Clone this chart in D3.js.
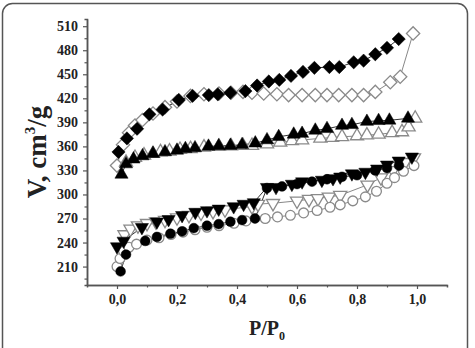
<!DOCTYPE html>
<html><head><meta charset="utf-8">
<script src="https://cdn.jsdelivr.net/npm/d3@7"></script>
<style>body{margin:0;background:#fff}svg{display:block}</style>
</head><body>
<svg id="c" width="475" height="348"></svg>
<script>
// ---- data ----
const xTicks = [0, 0.2, 0.4, 0.6, 0.8, 1.0];
const yTicks = [210, 240, 270, 300, 330, 360, 390, 420, 450, 480, 510];
const xLabel = "P/P";
const yLabel = "V, cm";

const diamondFilled = [[0.005,353],[0.033,370],[0.067,382],[0.108,400],[0.152,406],[0.206,418],[0.252,423],[0.306,424],[0.336,425],[0.378,427],[0.428,429],[0.467,436],[0.506,441],[0.541,443],[0.58,448],[0.62,453],[0.658,458],[0.708,459],[0.741,459],[0.789,465],[0.822,467],[0.861,475],[0.9,483],[0.939,494]];
const diamondOpen = [[0.0,336],[0.02,362],[0.04,377],[0.06,386],[0.085,393],[0.12,401],[0.16,409],[0.2,416],[0.245,423],[0.29,425],[0.34,426],[0.38,427],[0.42,428],[0.45,427],[0.489,426],[0.533,425],[0.572,424],[0.617,424],[0.661,424],[0.7,424],[0.739,424],[0.783,424],[0.822,424],[0.861,428],[0.911,440],[0.944,447],[0.987,501]];
const triUpFilled = [[0.015,325],[0.03,338],[0.055,344],[0.085,348],[0.12,351],[0.16,353],[0.2,355],[0.228,357],[0.26,358],[0.305,360],[0.339,360.5],[0.378,361],[0.417,362],[0.461,364],[0.5,368],[0.539,372],[0.589,375],[0.617,376],[0.661,380],[0.7,382],[0.75,386],[0.783,387],[0.833,391],[0.872,392],[0.908,392.5],[0.97,395]];
const triUpOpen = [[0.03,340],[0.06,346],[0.09,349],[0.12,351],[0.145,353],[0.175,354],[0.21,356],[0.245,357],[0.29,359],[0.34,360],[0.38,360.5],[0.42,361],[0.45,361],[0.5,363],[0.544,365],[0.583,367],[0.617,368],[0.678,370],[0.717,371],[0.75,372],[0.8,373],[0.833,374],[0.872,375],[0.917,377],[0.95,378],[0.972,384],[0.994,395]];
const triDownFilled = [[0.0,235],[0.022,242],[0.083,259],[0.133,266],[0.172,269],[0.217,274],[0.261,278],[0.3,280],[0.339,282],[0.389,285],[0.422,288],[0.456,290],[0.5,309],[0.53,309],[0.583,313],[0.617,316],[0.683,318],[0.72,320],[0.744,322],[0.783,326],[0.828,328],[0.867,332],[0.9,337],[0.939,342],[0.983,347]];
const triDownOpen = [[0.025,250],[0.045,257],[0.07,261],[0.1,264],[0.13,266],[0.16,268],[0.2,271],[0.24,274],[0.28,277],[0.32,279],[0.36,281],[0.45,285],[0.47,288],[0.52,289],[0.6,292],[0.64,294],[0.67,295],[0.706,297],[0.744,299],[0.835,312],[0.88,321],[0.92,330],[0.96,340],[0.99,346]];
const circleFilled = [[0.012,204],[0.03,225],[0.094,242],[0.133,247],[0.178,251],[0.217,254],[0.256,258],[0.3,261],[0.339,263],[0.378,266],[0.417,268],[0.46,270],[0.5,308],[0.55,310],[0.6,313],[0.65,316],[0.7,319],[0.75,322],[0.8,324],[0.86,330],[0.9,333],[0.94,336]];
const circleOpen = [[0.0,210],[0.01,220],[0.022,229],[0.04,234],[0.065,238],[0.1,243],[0.14,246],[0.18,250],[0.22,253],[0.26,256],[0.3,259],[0.34,261],[0.39,264],[0.43,267],[0.494,270],[0.535,272],[0.578,274],[0.622,277],[0.667,280],[0.71,284],[0.744,287],[0.786,292],[0.828,297],[0.865,304],[0.9,314],[0.925,321],[0.955,329],[0.99,336]];

const series = [
  {d: diamondOpen, sym: d3.symbolSquare, size: 88, filled: false, rot: 45},
  {d: triUpOpen, sym: d3.symbolTriangle, size: 75, filled: false, rot: 0},
  {d: triDownOpen, sym: d3.symbolTriangle, size: 75, filled: false, rot: 180},
  {d: circleOpen, sym: d3.symbolCircle, size: 75, filled: false, rot: 0},
  {d: diamondFilled, sym: d3.symbolSquare, size: 88, filled: true, rot: 45},
  {d: triUpFilled, sym: d3.symbolTriangle, size: 75, filled: true, rot: 0},
  {d: triDownFilled, sym: d3.symbolTriangle, size: 75, filled: true, rot: 180},
  {d: circleFilled, sym: d3.symbolCircle, size: 75, filled: true, rot: 0}
];

const svg = d3.select("#c");
const font = "'Liberation Serif','Times New Roman',serif";

// frame
svg.append("rect").attr("x",2.5).attr("y",3.5).attr("width",465).attr("height",360)
  .attr("rx",10).attr("fill","none").attr("stroke","#555").attr("stroke-width",1.5);

const x = d3.scaleLinear().domain([-0.1,1.1]).range([87,447]);
const y = d3.scaleLinear().domain([187,519]).range([285,19]);

const axisColor = "#555";
const fmtX = v => d3.format(".1f")(v).replace(".", ",");

// x axis
const gx = svg.append("g").attr("transform","translate(0,285)")
  .call(d3.axisBottom(x).tickValues(xTicks).tickFormat(fmtX).tickSizeInner(4).tickSizeOuter(0).tickPadding(5));
gx.append("g").call(d3.axisBottom(x).tickValues([0.1,0.3,0.5,0.7,0.9]).tickSize(2.5).tickFormat(""));
// y axis
const gy = svg.append("g").attr("transform","translate(87,0)")
  .call(d3.axisLeft(y).tickValues(yTicks).tickSizeInner(4).tickSizeOuter(0).tickPadding(5));
gy.append("g").call(d3.axisLeft(y).tickValues(d3.range(195,520,30)).tickSize(2.5).tickFormat(""));

svg.selectAll(".domain").attr("stroke",axisColor).attr("stroke-width",1.5);
svg.selectAll(".tick line").attr("stroke",axisColor).attr("stroke-width",1.2);
svg.selectAll(".tick text").attr("font-family",font).attr("font-weight","bold")
  .attr("font-size",14).attr("fill","#222");

// lines
const line = d3.line().x(d=>x(d[0])).y(d=>y(d[1]));
series.forEach(s=>{
  svg.append("path").attr("d", line(s.d)).attr("fill","none")
    .attr("stroke", s.filled ? "#333" : "#888").attr("stroke-width",1);
});
// markers
series.forEach(s=>{
  const sym = d3.symbol().type(s.sym).size(s.size);
  svg.append("g").selectAll("path").data(s.d).join("path")
    .attr("d", sym)
    .attr("transform", d=>`translate(${x(d[0])},${y(d[1])}) rotate(${s.rot})`)
    .attr("fill", s.filled ? "#000" : "#fff")
    .attr("stroke", s.filled ? "#000" : "#8a8a8a")
    .attr("stroke-width", s.filled ? 0.5 : 1.3);
});

// axis titles
const xt = svg.append("text").attr("x",267).attr("y",335).attr("text-anchor","middle")
  .attr("font-family",font).attr("font-weight","bold").attr("font-size",20).attr("fill","#222");
xt.append("tspan").text(xLabel);
xt.append("tspan").attr("dy",5).attr("font-size",12).text("0");

const yt = svg.append("text").attr("transform","translate(46,152) rotate(-90)").attr("text-anchor","middle")
  .attr("font-family",font).attr("font-weight","bold").attr("font-size",27).attr("fill","#222");
yt.append("tspan").text(yLabel);
yt.append("tspan").attr("dy",-11).attr("font-size",15).text("3");
yt.append("tspan").attr("dy",11).text("/g");
</script>
</body></html>
